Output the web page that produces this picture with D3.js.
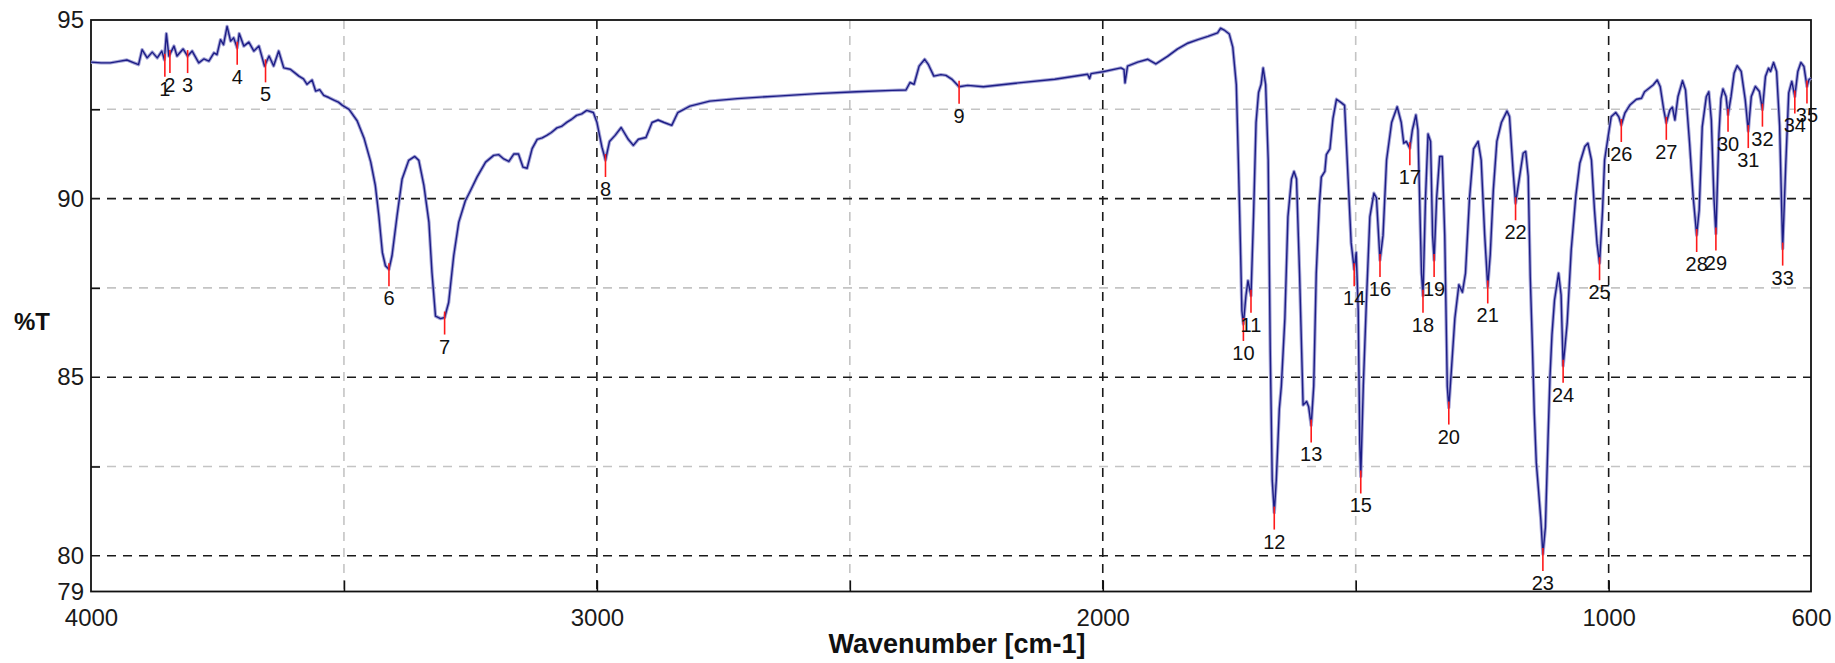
<!DOCTYPE html>
<html>
<head>
<meta charset="utf-8">
<script src="https://cdn.jsdelivr.net/npm/d3@7"></script>
<style>
  body { margin: 0; background: #fff; }
  text { font-family: "Liberation Sans", Arial, sans-serif; }
</style>
</head>
<body>
<div id="ir"></div>
<script>
// spectrum: wavenumber (cm-1) and %T
var wavenumber = [4000,3980,3962,3945,3929,3915,3906,3899,3889,3879,3869,3860,3855,3851,3846,3836,3830,3818,3809,3800,
  3787,3777,3767,3757,3751,3744,3738,3731,3724,3718,3711,3707,3698,3688,3678,3668,3657,3648,3639,3629,
  3619,3606,3597,3589,3580,3573,3563,3556,3548,3540,3530,3520,3511,3503,3490,3474,
  3460,3447,3438,3431,3424,3418,3411,3405,3395,3385,3372,3360,3352,3342,3332,3326,3319,3309,3301,3293,
  3283,3273,3260,3250,3237,3220,3204,3194,3184,3174,3164,3155,3146,3138,3128,3118,3108,3099,3090,3079,
  3070,3059,3050,3040,3030,3020,3007,3000,2990,2983,2975,2964,2952,2938,2928,2918,2903,2891,2879,2867,
  2852,2840,2816,2777,2722,2644,2565,2487,2416,2389,2381,2373,2363,2352,2345,2334,2320,2310,2298,2284,
  2267,2236,2173,2095,2030,2026,2023,2000,1964,1958,1956,1951,1931,1911,1895,1872,1852,1832,1812,1792,
  1773,1767,1760,1750,1743,1736,1732,1728,1725,1722,1717,1713,1710,1707,1702,1697,1692,1687,1683,1678,
  1673,1669,1665,1661,1657,1651,1647,1640,1634,1627,1622,1617,1611,1604,1597,1593,1588,1583,1578,1572,
  1568,1561,1558,1551,1545,1538,1528,1522,1515,1509,1503,1499,1495,1492,1490,1485,1479,1472,1464,1459,
  1452,1446,1439,1429,1418,1410,1405,1400,1393,1388,1381,1377,1370,1367,1362,1357,1352,1348,1345,1340,
  1334,1329,1324,1319,1316,1311,1304,1296,1289,1283,1275,1267,1258,1252,1245,1239,1234,1228,1221,1212,
  1201,1196,1189,1184,1176,1169,1164,1159,1155,1151,1147,1143,1139,1134,1130,1125,1120,1116,1112,1107,
  1099,1094,1090,1086,1082,1074,1065,1057,1047,1041,1034,1028,1023,1018,1012,1008,1001,995,986,980,
  975,968,958,945,935,929,912,904,898,891,886,879,874,869,863,854,848,840,833,826,
  821,815,807,802,797,792,788,782,778,774,768,764,758,752,746,738,730,724,718,710,
  702,696,690,684,680,674,668,662,656,650,644,638,632,626,620,614,608,604,600];

var transmittance = [93.82,93.80,93.80,93.84,93.88,93.80,93.75,94.17,93.94,94.10,93.94,94.13,93.89,94.62,93.99,94.27,93.99,94.19,93.99,94.13,
  93.80,93.91,93.85,94.08,94.03,94.45,94.31,94.82,94.41,94.50,94.22,94.62,94.27,94.38,94.13,94.27,93.71,93.99,93.71,94.13,
  93.66,93.62,93.52,93.43,93.35,93.20,93.32,93.01,93.05,92.89,92.83,92.76,92.70,92.61,92.50,92.18,
  91.68,91.02,90.37,89.52,88.49,88.12,88.02,88.40,89.52,90.55,91.07,91.18,91.07,90.37,89.34,87.93,86.71,86.64,86.67,87.09,
  88.40,89.34,89.94,90.22,90.60,91.02,91.21,91.23,91.11,91.04,91.25,91.25,90.88,90.85,91.40,91.66,91.70,91.77,91.85,91.98,
  92.02,92.14,92.22,92.33,92.37,92.47,92.41,92.14,91.44,91.08,91.60,91.77,91.99,91.66,91.49,91.66,91.71,92.13,92.20,92.13,
  92.05,92.41,92.59,92.73,92.80,92.87,92.94,92.99,93.03,93.04,93.25,93.20,93.71,93.90,93.76,93.43,93.47,93.45,93.34,93.13,
  93.17,93.13,93.23,93.34,93.48,93.36,93.50,93.55,93.66,93.61,93.24,93.71,93.82,93.90,93.77,93.98,94.19,94.35,94.45,94.54,
  94.64,94.77,94.72,94.61,94.24,93.19,91.08,88.76,86.86,86.49,87.28,87.70,87.49,87.28,89.49,92.13,92.97,93.20,93.66,93.19,
  91.08,85.80,82.11,81.21,82.11,84.11,84.75,86.65,89.49,90.55,90.76,90.55,87.91,84.22,84.32,84.17,83.65,84.75,87.91,89.81,
  90.60,90.76,91.23,91.39,92.24,92.78,92.68,92.61,90.55,88.76,88.02,88.49,86.86,83.16,82.22,84.75,87.07,89.49,90.15,90.02,
  88.28,88.97,91.08,92.13,92.57,92.13,91.55,91.60,91.41,91.92,92.34,91.92,87.91,87.28,90.02,91.81,91.60,88.97,88.28,90.02,
  91.18,91.18,88.97,84.75,84.15,85.17,86.65,87.59,87.38,87.91,90.02,91.39,91.60,91.08,88.97,87.54,88.44,90.23,91.60,92.13,
  92.45,92.30,90.80,89.87,90.62,91.27,91.32,90.62,87.82,86.00,84.00,82.60,81.90,81.00,80.05,80.80,83.20,85.00,86.20,87.16,
  87.91,87.30,85.32,85.90,86.51,88.56,90.06,90.99,91.46,91.55,91.08,89.68,88.75,88.19,89.68,91.08,91.74,92.29,92.41,92.29,
  92.06,92.39,92.62,92.78,92.81,92.99,93.18,93.32,93.13,92.48,92.12,92.48,92.56,92.20,92.85,93.30,93.04,91.55,90.06,88.98,
  89.68,92.01,92.85,92.99,92.20,90.06,89.02,91.80,92.80,93.07,92.86,92.35,92.86,93.51,93.72,93.56,92.77,91.89,92.86,93.14,
  93.00,92.49,93.42,93.65,93.56,93.81,93.56,92.03,88.60,90.91,92.96,93.28,92.86,93.56,93.81,93.70,93.14,93.33,93.37];

// numbered peak picks
var peakNo = [1,2,3,4,5,6,7,8,9,10,11,12,13,14,15,16,17,18,19,20,21,22,23,24,25,26,27,28,29,30,31,32,33,34,35];
var peakWn = [3854,3844,3809,3711,3655,3411,3301,2983,2284,1722,1707,1661,1588,1503,1490,1452,1393,1367,1345,1316,
  1239,1184,1130,1090,1018,975,886,826,788,764,724,696,656,632,608];
var peakT = [93.89,93.99,93.99,94.22,93.73,88.02,86.67,91.08,93.13,86.49,87.28,81.21,83.65,88.02,82.22,88.28,91.41,87.28,88.28,84.15,
  87.54,89.87,80.05,85.32,88.19,92.06,92.12,88.98,89.02,92.35,91.89,92.49,88.60,92.86,93.14];

var xTickLabels = [4000,3000,2000,1000,600];
var yTickLabels = [95,90,85,80,79];
var xGridDark = [3000,2000,1000], xGridLight = [3500,2500,1500];
var yGridDark = [90,85,80], yGridLight = [92.5,87.5,82.5];

var margin = {top: 20, right: 24, bottom: 71.5, left: 91},
    width = 1835 - margin.left - margin.right,
    height = 663 - margin.top - margin.bottom;

var svg = d3.select("#ir")
  .append("svg")
    .attr("width", 1835)
    .attr("height", 663)
  .append("g")
    .attr("transform", "translate(" + margin.left + "," + margin.top + ")");

var x = d3.scaleLinear().domain([4000, 600]).range([0, width]);
var y = d3.scaleLinear().domain([79, 95]).range([height, 0]);

// grid
function vgrid(vals, col) {
  svg.selectAll(null).data(vals).enter().append("line")
    .attr("x1", d => x(d)).attr("x2", d => x(d))
    .attr("y1", 0).attr("y2", height)
    .attr("stroke", col).attr("stroke-width", 1.6)
    .attr("stroke-dasharray", "9,7");
}
function hgrid(vals, col) {
  svg.selectAll(null).data(vals).enter().append("line")
    .attr("x1", 0).attr("x2", width)
    .attr("y1", d => y(d)).attr("y2", d => y(d))
    .attr("stroke", col).attr("stroke-width", 1.6)
    .attr("stroke-dasharray", "9,7");
}
vgrid(xGridLight, "#c4c4c4");
hgrid(yGridLight, "#c4c4c4");
vgrid(xGridDark, "#1a1a1a");
hgrid(yGridDark, "#1a1a1a");

// axes
var xAxis = svg.append("g")
  .attr("transform", "translate(0," + height + ")")
  .call(d3.axisBottom(x).tickValues(xTickLabels).tickSize(0).tickPadding(17).tickFormat(d3.format("d")));
var xMinor = svg.append("g")
  .attr("transform", "translate(0," + height + ")")
  .call(d3.axisBottom(x).tickValues([3500,3000,2500,2000,1500,1000]).tickSize(-11).tickFormat(""));
var yAxis = svg.append("g")
  .call(d3.axisLeft(y).tickValues(yTickLabels).tickSize(0).tickPadding(7));
var yMinor = svg.append("g")
  .call(d3.axisLeft(y).tickValues(yGridLight).tickSize(-9).tickFormat(""));

svg.selectAll(".domain").remove();
svg.selectAll(".tick line").attr("stroke", "#111").attr("stroke-width", 1.6);
svg.selectAll(".tick text")
  .style("font-size", "24px")
  .attr("fill", "#1a1a1a");

svg.append("rect")
  .attr("width", width).attr("height", height)
  .attr("fill", "none").attr("stroke", "#111").attr("stroke-width", 1.8);

// spectrum
var pts = wavenumber.map(function(w, i) { return [w, transmittance[i]]; });
var line = d3.line()
  .x(function(d) { return x(d[0]); })
  .y(function(d) { return y(d[1]); });

svg.append("path").datum(pts)
  .attr("d", line)
  .attr("fill", "none")
  .attr("stroke", "#a4a4d6")
  .attr("stroke-width", 3.4)
  .attr("stroke-linejoin", "round");
svg.append("path").datum(pts)
  .attr("d", line)
  .attr("fill", "none")
  .attr("stroke", "#1d1d86")
  .attr("stroke-width", 1.4)
  .attr("stroke-linejoin", "round");

// peak markers
var peaks = peakNo.map(function(n, i) { return {n: n, w: peakWn[i], t: peakT[i]}; });
svg.selectAll(".pk").data(peaks).enter().append("line")
  .attr("class", "pk")
  .attr("x1", d => x(d.w)).attr("x2", d => x(d.w))
  .attr("y1", d => y(d.t) - 6).attr("y2", d => y(d.t) + 17)
  .attr("stroke", "#ff1a1a").attr("stroke-width", 1.6);
svg.selectAll(".pl").data(peaks).enter().append("text")
  .attr("class", "pl")
  .attr("x", d => x(d.w))
  .attr("y", d => y(d.t) + 36)
  .attr("text-anchor", "middle")
  .style("font-size", "20px")
  .attr("fill", "#111")
  .text(d => d.n);

// titles
svg.append("text")
  .attr("x", width / 2 + 6)
  .attr("y", 653 - margin.top)
  .attr("text-anchor", "middle")
  .style("font-size", "27px")
  .style("font-weight", "bold")
  .attr("fill", "#111")
  .text("Wavenumber [cm-1]");
svg.append("text")
  .attr("x", 32 - margin.left)
  .attr("y", 330 - margin.top)
  .attr("text-anchor", "middle")
  .style("font-size", "24px")
  .style("font-weight", "bold")
  .attr("fill", "#111")
  .text("%T");
</script>
</body>
</html>
